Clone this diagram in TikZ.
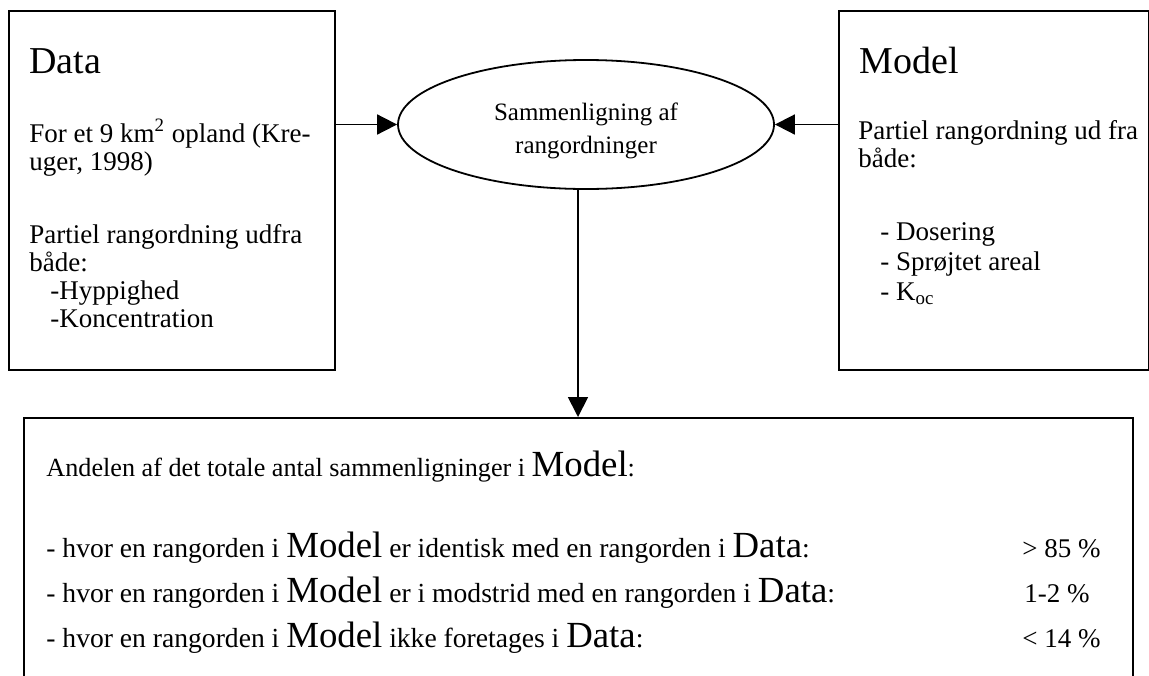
\documentclass[tikz,border=0pt]{standalone}
\usepackage{fontspec}
\setmainfont{Liberation Serif}
\usetikzlibrary{shapes.geometric,arrows.meta}

\newcommand\bodyfont{\fontsize{13.5}{15}\selectfont}
\newcommand\headfont{\fontsize{19}{22}\selectfont}
\newcommand\bigname[1]{{\fontsize{18.4}{22}\selectfont #1}}

\tikzset{
  box/.style={draw, line width=0.9pt, anchor=north west, inner sep=0},
  line/.style={anchor=base west, inner sep=0, font=\bodyfont},
  head/.style={anchor=base west, inner sep=0, font=\headfont},
  row/.style={line, font=\fontsize{13.8}{15}\selectfont},
  arr/.style={line width=0.9pt, -{Triangle[length=10pt,width=10pt]}},
}

\begin{document}
\begin{tikzpicture}[x=0.5pt, y=-0.5pt]
  \useasboundingbox (0,0) rectangle (1149,675);

  % the two source boxes and the result box (open at the foot)
  \node[box, minimum width=163pt, minimum height=179.5pt] (data) at (8,10) {};
  \node[box, minimum width=155pt, minimum height=179.5pt] (model) at (838,10) {};
  \node[box, minimum width=554.5pt, minimum height=150pt] (res) at (23,417) {};
  \node[draw, ellipse, line width=0.9pt, minimum width=188pt, minimum height=64.5pt,
        inner sep=0] (cmp) at (586,124.5) {};
  \node[align=center, inner sep=0, yshift=-3pt, font=\fontsize{12.5}{16.5}\selectfont]
        (cmptxt) at (cmp) {Sammenligning af\\rangordninger};

  \coordinate (drop) at (578,417);
  \draw[arr] (data.east |- cmp) -- (cmp.west);
  \draw[arr] (model.west |- cmp) -- (cmp.east);
  \draw[arr] (cmp.south -| drop) -- (drop);

  % Data
  \node[head] (dhead) at (29,73) {Data};
  \node[line] (d1) at (29,142) {For et 9 km\textsuperscript{2} opland (Kre-};
  \node[line] (d2) at (29,170) {uger, 1998)};
  \node[line] (d3) at (29,243) {Partiel rangordning udfra};
  \node[line] (d4) at (29,271) {både:};
  \node[line] (d5) at (50,299) {-Hyppighed};
  \node[line] (d6) at (50,327) {-Koncentration};

  % Model
  \node[head] (mhead) at (859,73) {Model};
  \node[line] (m1) at (858,139) {Partiel rangordning ud fra};
  \node[line] (m2) at (858,167) {både:};
  \node[line] (m3) at (880,240) {- Dosering};
  \node[line] (m4) at (880,270) {- Sprøjtet areal};
  \node[line] (m5) at (880,300) {- K\textsubscript{oc}};

  % result
  \node[line, font=\fontsize{13.1}{15}\selectfont] (r0) at (46,476)
    {Andelen af det totale antal sammenligninger i \bigname{Model}:};
  \node[row] (r1) at (46,557) {- hvor en rangorden i \bigname{Model} er identisk med en rangorden i \bigname{Data}:};
  \node[row] (r2) at (46,602) {- hvor en rangorden i \bigname{Model} er i modstrid med en rangorden i \bigname{Data}:};
  \node[row] (r3) at (46,647) {- hvor en rangorden i \bigname{Model} ikke foretages i \bigname{Data}:};
  \node[line] (p1) at (1022,557) {> 85 \%};
  \node[line] (p2) at (1024,602) {1-2 \%};
  \node[line] (p3) at (1022,647) {< 14 \%};
\end{tikzpicture}
\end{document}
